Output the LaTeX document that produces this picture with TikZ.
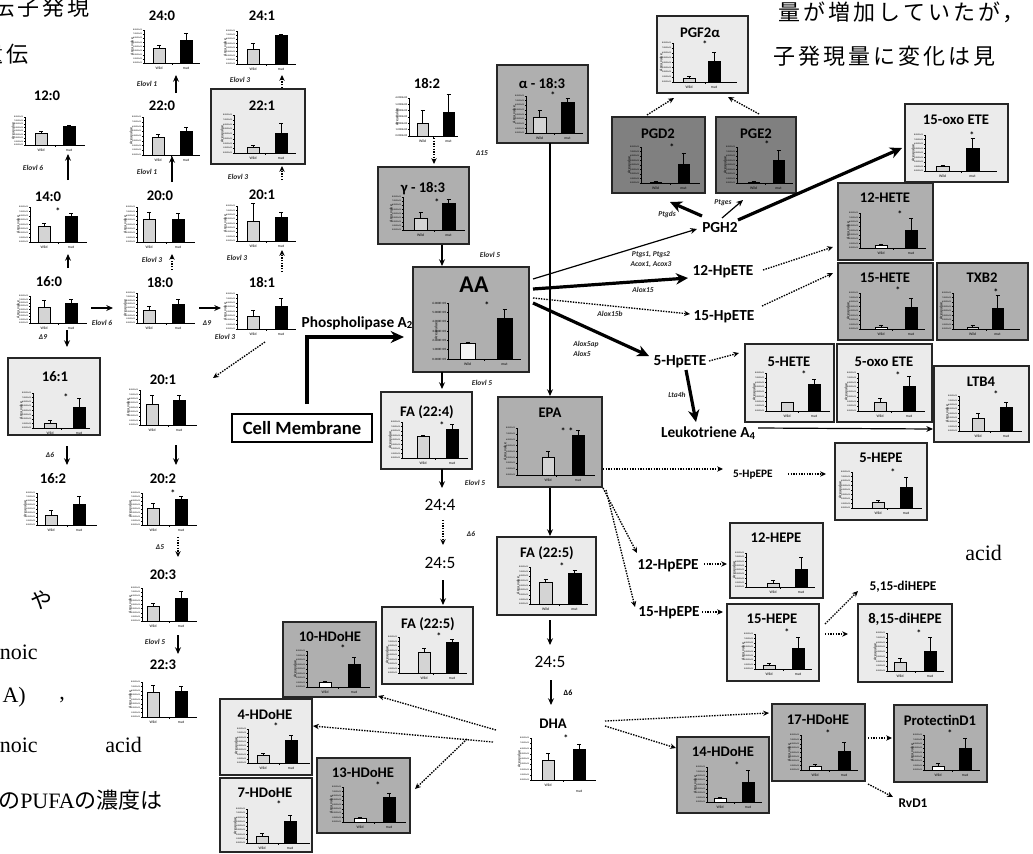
\documentclass[tikz,border=0pt]{standalone}
\usepackage{fontspec}
\setmainfont{Carlito}
\newfontfamily\jpfont{Noto Sans CJK JP}
\newfontfamily\jpfontsp[LetterSpace=14]{Noto Sans CJK JP}
\newfontfamily\serifbg{Liberation Serif}
\usetikzlibrary{arrows.meta,fit}
\definecolor{pLight}{RGB}{235,235,235}
\definecolor{pMid}{RGB}{175,175,175}
\definecolor{pDark}{RGB}{128,128,128}
\definecolor{barW}{RGB}{212,212,212}
\newcounter{chartno}
\pgfkeys{/chart/.cd,
  x/.store in=\cX, y/.store in=\cY, w/.store in=\cW, h/.store in=\cH,
  a/.store in=\cA, b/.store in=\cB, bw/.store in=\cBW,
  wt/.store in=\cWT, wc/.store in=\cWC, mt/.store in=\cMT, mc/.store in=\cMC,
  s/.store in=\cS, sx/.store in=\cSX, sy/.store in=\cSY,
  wf/.store in=\cWF, n/.store in=\cN, e/.store in=\cE, tf/.store in=\cTF, ml/.store in=\cML}
\newcommand\chart[1]{%
  \stepcounter{chartno}%
  \pgfkeys{/chart/.cd, bw=12, s={}, sx=0, sy=0, wf=barW, n=8, e=05, tf=1.6, ml=5, #1}%
  \edef\cid{ch\arabic{chartno}}%
  \foreach \i in {0,...,\cN}{%
    \pgfmathsetmacro\ty{\cY-\i*\cH/\cN}%
    \draw[line width=0.3pt] (\cX,\ty) -- ++(-1.2,0);
    \node[anchor=east, inner sep=0, font=\fontsize{\cTF}{\cTF}\selectfont] (\cid-t\i) at (\cX-1.6,\ty) {\i.000E+\cE};
  }%
  \node[rotate=90, inner sep=0, font=\fontsize{3}{3}\selectfont] (\cid-v) at (\cX-12,\cY-0.5*\cH) {Area value};
  \draw[line width=0.6pt, fill=\cWF] (\cA,\cY) rectangle (\cA+\cBW,\cWT);
  \draw[line width=0.6pt] (\cA+0.5*\cBW,\cWT) -- (\cA+0.5*\cBW,\cWC) (\cA+0.5*\cBW-2,\cWC) -- (\cA+0.5*\cBW+2,\cWC);
  \draw[line width=0.6pt, fill=black] (\cB,\cY) rectangle (\cB+\cBW,\cMT);
  \draw[line width=0.6pt] (\cB+0.5*\cBW,\cMT) -- (\cB+0.5*\cBW,\cMC) (\cB+0.5*\cBW-2,\cMC) -- (\cB+0.5*\cBW+2,\cMC);
  \draw[line width=0.7pt] (\cX,\cY-\cH) -- (\cX,\cY) -- (\cX+\cW,\cY);
  \draw[line width=0.4pt] (\cX+0.5*\cW,\cY) -- ++(0,1.8);
  \node[inner sep=0, font=\fontsize{2.8}{2.8}\selectfont] (\cid-w) at (\cA+0.5*\cBW,\cY+5) {Wild};
  \node[inner sep=0, font=\fontsize{2.8}{2.8}\selectfont] (\cid-m) at (\cB+0.5*\cBW,\cY+\cML) {mut};
  \ifx\cS\empty\else
    \node[inner sep=0, font=\bfseries\fontsize{7}{7}\selectfont] (\cid-s) at (\cSX,\cSY) {\cS};
  \fi
}
\newcommand\panel[6]{\node[#2, fit={(#3,#4) (#5,#6)}, inner sep=0pt, outer sep=0pt] (#1) {};}
\newcommand\arr[4][ar]{\path (#3) coordinate (#2-s) (#4) coordinate (#2-e); \draw[#1] (#2-s) -- (#2-e);}
\tikzset{
  panelL/.style={draw=black!85, line width=0.9pt, fill=pLight},
  panelM/.style={draw=black!85, line width=0.9pt, fill=pMid},
  panelD/.style={draw=black!85, line width=0.9pt, fill=pDark},
  ttl/.style={inner sep=0, font=\bfseries\fontsize{11}{12}\selectfont},
  lbl/.style={inner sep=0, font=\bfseries\fontsize{11.5}{12}\selectfont},
  slbl/.style={inner sep=0, font=\bfseries\fontsize{8.5}{9}\selectfont},
  mlbl/.style={inner sep=0, font=\bfseries\fontsize{10}{11}\selectfont},
  rlbl/.style={inner sep=0, font=\fontsize{13}{14}\selectfont},
  enz/.style={inner sep=0, font=\bfseries\itshape\fontsize{5.6}{6}\selectfont, text=black!85},
  enzn/.style={inner sep=0, font=\bfseries\fontsize{6}{7}\selectfont},
  bgj/.style={inner sep=0, font=\jpfontsp\fontsize{16.5}{17}\selectfont},
  bgl/.style={inner sep=0, font=\serifbg\fontsize{16.5}{17}\selectfont},
  ar/.style={line width=0.9pt, -{Stealth[length=5pt,width=4.4pt]}},
  tar/.style={line width=2.4pt, -{Stealth[length=9pt,width=8.5pt]}},
  dar/.style={line width=1pt, dash pattern=on 1.1pt off 0.9pt, -{Stealth[length=4.4pt,width=4pt]}}
}
\begin{document}
\begin{tikzpicture}[x=0.75pt,y=-0.75pt]
\useasboundingbox (0,0) rectangle (1033,854);
\fill[white] (0,0) rectangle (1033,854);
% background document text
\node[bgj, anchor=east] (bg1) at (90,7) {遺伝子発現};
\node[bgj, anchor=east] (bg2) at (29,54) {遺伝};
\node[bgj, anchor=west] (bg3) at (778,12) {量が増加していたが，};
\node[bgj, anchor=west] (bg4) at (773,56) {子発現量に変化は見};
\node[bgj] (bg5) at (42,600) {や};
\node[bgl, anchor=east] (bg6) at (38,652) {noic};
\node[bgl, anchor=east] (bg7) at (26,697) {A)};
\node[bgl] (bg8) at (62,700) {,};
\node[bgl, anchor=east] (bg9) at (38,745) {noic};
\node[bgl, anchor=west] (bg10) at (105,745) {acid};
\node[bgl, anchor=west] (bg11) at (-2,800) {{\jpfont の}PUFA{\jpfont の濃度は}};
\node[bgl, anchor=west] (bg12) at (965,553) {acid};

% ---------- panels ----------
\panel{p161}{panelL}{8}{358}{100}{435}
\panel{p221}{panelL}{211}{89}{305}{164}
\panel{pG}{panelM}{378}{167}{469}{244}
\panel{pAA}{panelM}{413}{267}{529}{372}
\panel{pFA4}{panelL}{381}{392}{472}{469}
\panel{pFA5L}{panelL}{382}{607}{473}{684}
\panel{pAl}{panelM}{497}{65}{588}{143}
\panel{pEPA}{panelM}{498}{397}{602}{487}
\panel{pFA5R}{panelL}{497}{537}{596}{615}
\panel{p10}{panelM}{283}{622}{376}{697}
\panel{p4}{panelL}{220}{699}{312}{775}
\panel{p7}{panelL}{220}{778}{312}{852}
\panel{p13}{panelM}{317}{758}{410}{833}
\panel{pPGF}{panelL}{657}{16}{748}{93}
\panel{pPGD}{panelD}{612}{117}{705}{193}
\panel{pPGE}{panelD}{716}{117}{796}{193}
\panel{pOxo}{panelL}{905}{104}{1008}{182}
\panel{p12H}{panelM}{838}{183}{933}{260}
\panel{p15H}{panelM}{838}{263}{933}{340}
\panel{pTX}{panelM}{937}{263}{1028}{340}
\panel{p5H}{panelL}{745}{344}{834}{422}
\panel{p5O}{panelL}{837}{344}{932}{422}
\panel{pLT}{panelL}{934}{366}{1029}{442}
\panel{p5E}{panelL}{835}{443}{927}{520}
\panel{p12E}{panelL}{730}{523}{823}{598}
\panel{p15E}{panelL}{727}{604}{819}{681}
\panel{p815}{panelL}{858}{604}{952}{682}
\panel{p17}{panelM}{772}{704}{865}{781}
\panel{pPD}{panelM}{894}{705}{987}{782}
\panel{p14}{panelM}{677}{737}{769}{813}
\node[draw, line width=1.1pt, fill=white, minimum width=105pt, minimum height=21pt, inner sep=0, font=\bfseries\fontsize{14}{15}\selectfont] (cm) at (302,428) {Cell Membrane};

% ---------- titles ----------
\node[ttl] (t120) at (47,96) {12:0};
\node[ttl] (t140) at (48,197) {14:0};
\node[ttl] (t160) at (49,282) {16:0};
\node[ttl] (p161-t) at (55,377) {16:1};
\node[ttl] (t162) at (53,479) {16:2};
\node[ttl] (t240) at (162,16) {24:0};
\node[ttl] (t220) at (162,106) {22:0};
\node[ttl] (t200) at (160,196) {20:0};
\node[ttl] (t180) at (160,282) {18:0};
\node[ttl] (t201) at (163,380) {20:1};
\node[ttl] (t202) at (163,479) {20:2};
\node[ttl] (t203) at (163,575) {20:3};
\node[ttl] (t223) at (163,665) {22:3};
\node[ttl] (t241) at (262,16) {24:1};
\node[ttl] (p221-t) at (262,106) {22:1};
\node[ttl] (t201b) at (262,195) {20:1};
\node[ttl] (t181) at (262,282) {18:1};
\node[ttl] (t182) at (427,83) {18:2};
\node[ttl] (pG-t) at (423,189) {γ - 18:3};
\node[inner sep=0, font=\bfseries\fontsize{18}{19}\selectfont] (pAA-t) at (474,285) {AA};
\node[ttl] (pFA4-t) at (427,412) {FA (22:4)};
\node[ttl] (pFA5L-t) at (428,624) {FA (22:5)};
\node[ttl] (pAl-t) at (542,83) {α - 18:3};
\node[ttl] (pEPA-t) at (550,413) {EPA};
\node[ttl] (pFA5R-t) at (547,553) {FA (22:5)};
\node[ttl] (tDHA) at (553,724) {DHA};
\node[ttl] (p10-t) at (330,637) {10-HDoHE};
\node[ttl] (p4-t) at (265,715) {4-HDoHE};
\node[ttl] (p7-t) at (265,793) {7-HDoHE};
\node[ttl] (p13-t) at (363,773) {13-HDoHE};
\node[ttl] (pPGF-t) at (700,33) {PGF2α};
\node[ttl] (pPGD-t) at (658,134) {PGD2};
\node[ttl] (pPGE-t) at (756,134) {PGE2};
\node[ttl] (pOxo-t) at (956,120) {15-oxo ETE};
\node[ttl] (p12H-t) at (885,198) {12-HETE};
\node[ttl] (p15H-t) at (885,278) {15-HETE};
\node[ttl] (pTX-t) at (982,278) {TXB2};
\node[ttl] (p5H-t) at (789,362) {5-HETE};
\node[ttl] (p5O-t) at (884,362) {5-oxo ETE};
\node[ttl] (pLT-t) at (981,382) {LTB4};
\node[ttl] (p5E-t) at (881,458) {5-HEPE};
\node[ttl] (p12E-t) at (776,538) {12-HEPE};
\node[ttl] (p15E-t) at (772,619) {15-HEPE};
\node[ttl] (p815-t) at (905,619) {8,15-diHEPE};
\node[ttl] (p17-t) at (818,720) {17-HDoHE};
\node[ttl] (pPD-t) at (940,720) {ProtectinD1};
\node[ttl] (p14-t) at (723,752) {14-HDoHE};

% ---------- free labels ----------
\node[rlbl] (l244) at (440,505) {24:4};
\node[rlbl] (l245) at (440,563) {24:5};
\node[rlbl] (l245b) at (550,662) {24:5};
\node[lbl] (pgh2) at (720,228) {PGH2};
\node[lbl] (hp12) at (723,272) {12-HpETE};
\node[lbl] (hp15) at (724,317) {15-HpETE};
\node[lbl] (hp5) at (680,362) {5-HpETE};
\node[lbl] (lta4) at (708,433) {Leukotriene A{\fontsize{8}{8}\selectfont\raisebox{-1.2pt}{4}}};
\node[lbl] (pla2) at (357,323) {Phospholipase A{\fontsize{8}{8}\selectfont\raisebox{-1.2pt}{2}}};
\node[slbl] (hpe5) at (753,475) {5-HpEPE};
\node[lbl] (hpe12) at (668,566) {12-HpEPE};
\node[lbl] (hpe15) at (669,613) {15-HpEPE};
\node[mlbl] (dih) at (903,587) {5,15-diHEPE};
\node[mlbl] (rvd1) at (913,803) {RvD1};

% ---------- enzyme labels ----------
\node[enz] (e1) at (33,168) {Elovl 6};
\node[enz] (e2) at (102,323) {Elovl 6};
\node[enz] (e3) at (43,337) {Δ9};
\node[enz] (e4) at (50,455) {Δ6};
\node[enz] (e5) at (147,84) {Elovl 1};
\node[enz] (e6) at (147,172) {Elovl 1};
\node[enz] (e7) at (152,260) {Elovl 3};
\node[enz] (e8) at (207,323) {Δ9};
\node[enz] (e9) at (160,547) {Δ5};
\node[enz] (e10) at (155,642) {Elovl 5};
\node[enz] (e11) at (240,80) {Elovl 3};
\node[enz] (e12) at (238,177) {Elovl 3};
\node[enz] (e13) at (237,258) {Elovl 3};
\node[enz] (e14) at (225,337) {Elovl 3};
\node[enz] (e15) at (482,153) {Δ15};
\node[enz] (e16) at (490,255) {Elovl 5};
\node[enz] (e17) at (482,383) {Elovl 5};
\node[enz] (e18) at (475,483) {Elovl 5};
\node[enz] (e19) at (471,534) {Δ6};
\node[enzn] (e20) at (568,693) {Δ6};
\node[enz] (e21) at (651,255) {Ptgs1, Ptgs2};
\node[enz] (e22) at (651,265) {Acox1, Acox3};
\node[enz] (e23) at (643,290) {Alox15};
\node[enz] (e24) at (610,314) {Alox15b};
\node[enz, anchor=west] (e25) at (573,344) {Alox5ap};
\node[enz, anchor=west] (e26) at (573,354) {Alox5};
\node[enz] (e27) at (677,395) {Lta4h};
\node[enz] (e28) at (667,215) {Ptgds};
\node[enz] (e29) at (723,203) {Ptges};

% ---------- charts ----------
\chart{x=25,y=145,w=60,h=28,a=35,b=63,wt=133,wc=131,mt=126,mc=125}
\chart{x=30,y=242,w=57,h=35,a=38,b=65,wt=226,wc=223,mt=216,mc=213,s=*,sx=58,sy=211}
\chart{x=30,y=323,w=57,h=27,a=38,b=65,wt=307,wc=300,mt=303,mc=299}
\chart{x=33,y=428,w=57,h=35,a=44,b=73,wt=423,wc=420,mt=407,mc=398,s=*,sx=66,sy=397}
\chart{x=37,y=525,w=60,h=32,a=45,b=73,wt=515,wc=510,mt=504,mc=496}
\chart{x=144,y=63,w=56,h=33,a=153,b=180,wt=48,wc=45,mt=40,mc=33}
\chart{x=143,y=155,w=57,h=38,a=152,b=180,wt=137,wc=134,mt=131,mc=127}
\chart{x=137,y=242,w=58,h=35,a=143,b=172,wt=219,wc=212,mt=219,mc=213}
\chart{x=137,y=323,w=58,h=30,a=143,b=172,wt=310,wc=306,mt=304,mc=299}
\chart{x=140,y=425,w=57,h=35,a=146,b=173,wt=404,wc=395,mt=400,mc=395}
\chart{x=142,y=525,w=55,h=32,a=147,b=175,wt=508,wc=503,mt=499,mc=496,s=*,sx=173,sy=493}
\chart{x=142,y=621,w=55,h=33,a=147,b=175,wt=606,wc=603,mt=598,mc=591}
\chart{x=142,y=717,w=55,h=35,a=147,b=175,wt=692,wc=685,mt=691,mc=686}
\chart{x=237,y=64,w=59,h=33,a=247,b=275,wt=49,wc=43,mt=35,mc=34}
\chart{x=234,y=153,w=62,h=38,a=247,b=275,wt=147,wc=145,mt=133,mc=123}
\chart{x=237,y=241,w=59,h=35,a=247,b=275,wt=221,wc=203,mt=217,mc=212}
\chart{x=237,y=329,w=59,h=35,a=247,b=275,wt=316,wc=310,mt=306,mc=298}
\chart{x=409,y=136,w=49,h=38,a=417,b=443,bw=11,wt=123,wc=110,mt=112,mc=94,n=6,e=00,tf=2}
\chart{x=403,y=230,w=62,h=33,a=414,b=442,bw=13,wt=218,wc=212,mt=203,mc=199,s=*,sx=437,sy=202}
\chart{x=448,y=359,w=73,h=56,a=460,b=497,bw=15,wt=343,wc=342,mt=318,mc=309,s=*,sx=487,sy=305,wf=white!96!black,n=6,tf=2.4}
\chart{x=402,y=458,w=66,h=36,a=417,b=446,wt=436,wc=435,mt=429,mc=424,s=*,sx=442,sy=425}
\chart{x=399,y=673,w=68,h=36,a=418,b=446,wt=652,wc=648,mt=642,mc=639,s=*,sx=439,sy=636}
\chart{x=526,y=133,w=57,h=37,a=533,b=561,bw=13,wt=117,wc=110,mt=102,mc=98,s=*,sx=553,sy=95}
\chart{x=517,y=475,w=78,h=47,a=542,b=572,wt=457,wc=451,mt=435,mc=430,s={*\,\,*},sx=567,sy=431}
\chart{x=530,y=604,w=58,h=37,a=539,b=568,bw=13,wt=582,wc=579,mt=573,mc=570,s=*,sx=562,sy=566}
\chart{x=531,y=780,w=65,h=42,a=542,b=573,wt=760,wc=753,mt=749,mc=744,s=*,sx=566,sy=738,ml=11}
\chart{x=307,y=687,w=63,h=36,a=319,b=348,wt=682,wc=681,mt=664,mc=657,s=*,sx=343,sy=648,wf=white}
\chart{x=248,y=763,w=62,h=34,a=257,b=285,wt=755,wc=753,mt=740,mc=735,s=*,sx=276,sy=726}
\chart{x=247,y=843,w=63,h=34,a=256,b=284,wt=836,wc=833,mt=821,mc=815,s=*,sx=279,sy=804}
\chart{x=343,y=822,w=63,h=35,a=354,b=383,wt=818,wc=817,mt=797,mc=793,s=*,sx=378,sy=785,wf=white}
\chart{x=673,y=82,w=64,h=39,a=683,b=708,wt=78,wc=76,mt=61,mc=52,s=*,sx=705,sy=44}
\chart{x=641,y=183,w=59,h=36,a=650,b=678,bw=11,wt=182,wc=181,mt=164,mc=153,s=*,sx=672,sy=147,wf=white}
\chart{x=737,y=183,w=56,h=36,a=748,b=773,bw=11,wt=182,wc=181,mt=160,mc=150,s=*,sx=767,sy=144,wf=white}
\chart{x=925,y=171,w=72,h=36,a=936,b=966,bw=13,wt=166,wc=165,mt=148,mc=138,s=*,sx=972,sy=135}
\chart{x=860,y=248,w=66,h=35,a=875,b=905,wt=245,wc=244,mt=230,mc=218,s=*,sx=900,sy=214,wf=white}
\chart{x=860,y=329,w=65,h=36,a=875,b=905,wt=327,wc=325,mt=307,mc=298,s=*,sx=898,sy=290,wf=white}
\chart{x=953,y=329,w=67,h=36,a=967,b=992,bw=11,wt=327,wc=325,mt=308,mc=295,s=*,sx=996,sy=292}
\chart{x=766,y=411,w=64,h=38,a=781,b=808,wt=402,wc=402,mt=384,mc=379,s=*,sx=804,sy=374}
\chart{x=858,y=411,w=67,h=38,a=874,b=903,wt=402,wc=398,mt=386,mc=376,s=*,sx=898,sy=375}
\chart{x=959,y=431,w=63,h=35,a=972,b=1000,wt=418,wc=413,mt=407,mc=402,s=*,sx=996,sy=394}
\chart{x=852,y=508,w=70,h=36,a=872,b=900,wt=502,wc=500,mt=487,mc=477,s=*,sx=893,sy=472}
\chart{x=746,y=587,w=69,h=34,a=767,b=795,wt=583,wc=580,mt=569,mc=557}
\chart{x=755,y=669,w=57,h=35,a=763,b=792,wt=665,wc=663,mt=648,mc=637,s=*,sx=787,sy=632}
\chart{x=887,y=671,w=57,h=38,a=894,b=924,wt=662,wc=658,mt=651,mc=637,s=*,sx=919,sy=633}
\chart{x=801,y=770,w=57,h=35,a=809,b=838,wt=766,wc=764,mt=751,mc=742,s=*,sx=828,sy=733,wf=white}
\chart{x=924,y=770,w=56,h=35,a=932,b=959,wt=766,wc=763,mt=748,mc=738,s=*,sx=950,sy=733,wf=white}
\chart{x=707,y=802,w=55,h=35,a=714,b=742,wt=798,wc=797,mt=782,mc=770,s=*,sx=737,sy=765,wf=white}

% ---------- connectors ----------
\arr{a1}{68,180}{68,154}
\arr{a2}{68,268}{68,254}
\arr{a3}{91,308}{113,308}
\arr{a4}{67,330}{67,347}
\arr{a5}{67,446}{67,465}
\arr{a6}{176,93}{176,75}
\arr{a7}{172,182}{172,156}
\arr[dar]{a8}{172,270}{172,254}
\arr{a9}{199,308}{221,308}
\arr{a10}{176,445}{176,465}
\arr[dar]{a11}{178,537}{178,557}
\arr{a12}{178,635}{178,654}
\arr[dar]{a13}{282,88}{282,75}
\arr[dar]{a14}{282,180}{282,166}
\arr[dar]{a15}{282,272}{282,250}
\arr[dar]{a16}{265,342}{213,378}
\arr[dar]{a17}{434,138}{434,164}
\arr{a18}{442,245}{442,266}
\arr{a19}{442,372}{442,389}
\arr{a20}{442,469}{442,488}
\arr[dar]{a21}{443,520}{443,545}
\arr{a22}{443,580}{443,605}
\arr{a23}{550,143}{550,396}
\arr{a24}{550,488}{550,536}
\arr{a25}{550,620}{550,645}
\arr{a26}{551,680}{551,705}
\path (307,404) coordinate (cm-s) (404,337) coordinate (cm-e);
\draw[line width=2.6pt, -{Stealth[length=10pt,width=9pt]}] (cm-s) |- (cm-e);
\arr{a27}{533,279}{697,229}
\arr[tar]{a28}{533,289}{688,278}
\arr[dar]{a29}{533,298}{690,314}
\arr[tar]{a30}{533,303}{649,356}
\arr[tar]{a31}{702,216}{670,202}
\arr{a32}{722,218}{743,200}
\arr[tar]{a33}{738,220}{902,148}
\arr[dar]{a34}{647,115}{674,98}
\arr[dar]{a35}{759,114}{728,97}
\arr[dar]{a36}{763,270}{833,247}
\arr[dar]{a37}{762,306}{833,273}
\arr[dar]{a38}{709,361}{739,353}
\arr[tar]{a39}{686,370}{696,422}
\arr{a40}{758,428}{933,429}
\arr[dar]{a41}{603,469}{723,469}
\arr[dar]{a42}{788,474}{826,474}
\arr[dar]{a43}{603,488}{637,553}
\arr[dar]{a44}{606,490}{635,607}
\arr[dar]{a45}{704,564}{727,564}
\arr[dar]{a46}{702,612}{723,612}
\arr[dar]{a47}{825,624}{858,591}
\arr[dar]{a48}{825,634}{848,634}
\arr[dar]{a49}{605,721}{769,713}
\arr[dar]{a50}{605,726}{676,748}
\arr[dar]{a51}{868,738}{892,738}
\arr[dar]{a52}{868,784}{893,797}
\arr[dar]{a53}{496,730}{378,696}
\arr[dar]{a54}{493,742}{313,726}
\arr[dar]{a55}{467,739}{415,789}
\end{tikzpicture}
\end{document}
